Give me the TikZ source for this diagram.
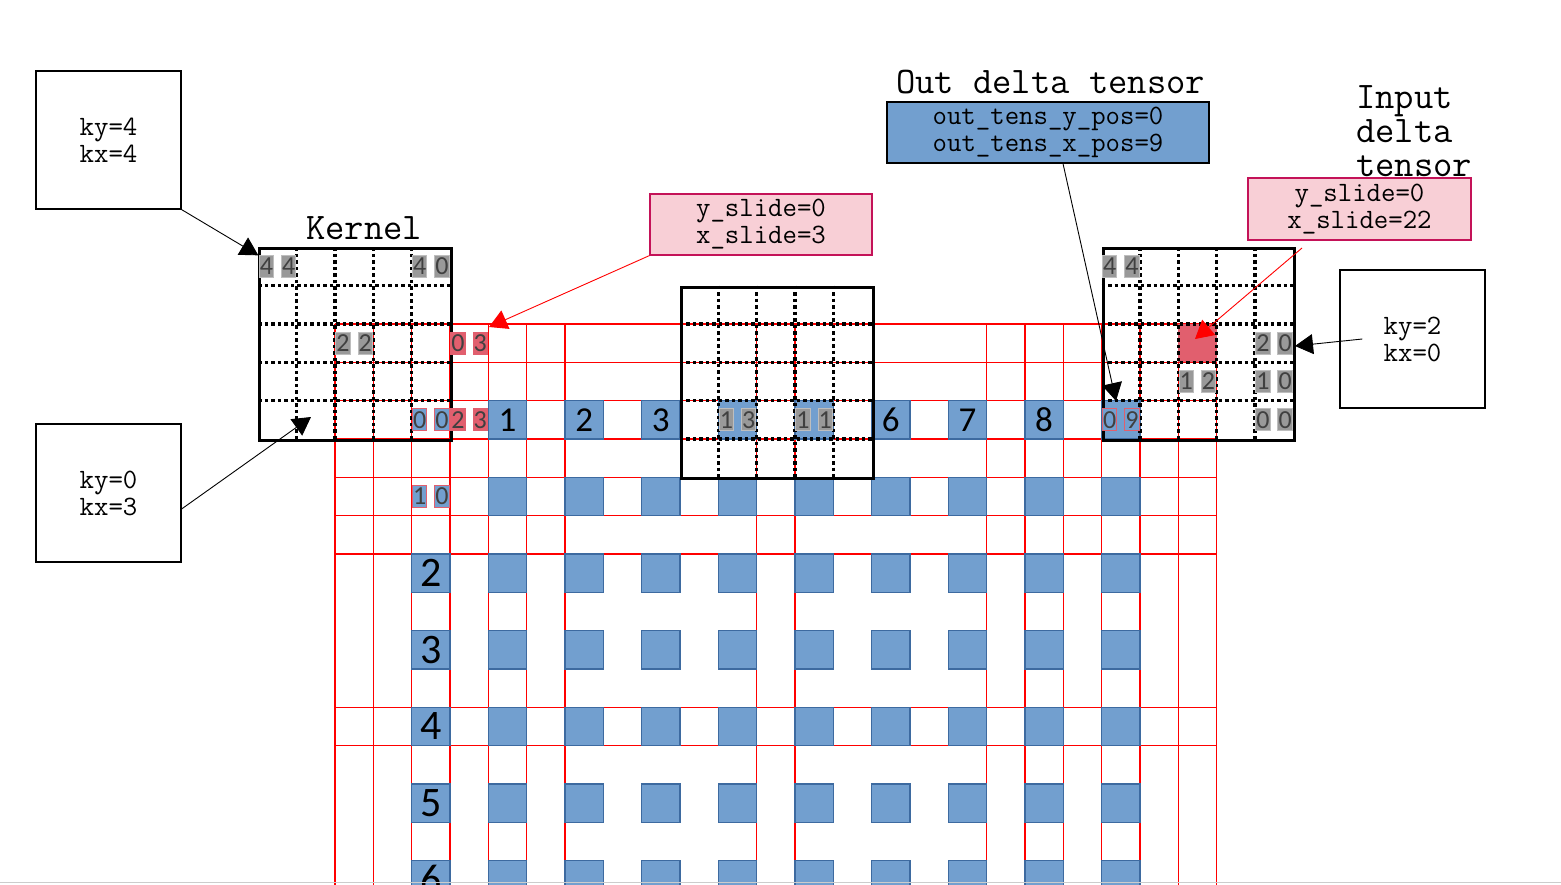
\documentclass[tikz,border=0pt]{standalone}
\usepackage{fontspec}
\newfontfamily\numfont{Carlito}
\usetikzlibrary{arrows.meta}
\usetikzlibrary{scopes}

\definecolor{cellblue}{RGB}{114,159,207}
\definecolor{celledge}{RGB}{61,106,160}
\definecolor{lblgrey}{RGB}{153,153,153}
\definecolor{lblgreyedge}{RGB}{190,190,190}
\definecolor{lblred}{RGB}{225,95,110}
\definecolor{notepink}{RGB}{248,207,214}
\definecolor{noteedge}{RGB}{196,18,88}

\tikzset{
	note/.style={draw, line width=1.2pt, inner sep=0pt, align=center, font=\ttfamily\fontsize{28}{27}\selectfont},
	pinknote/.style={note, draw=noteedge, fill=notepink},
	title/.style={inner sep=0pt, font=\ttfamily\fontsize{37.5}{34}\selectfont},
	cellbox/.style={fill=cellblue, draw=celledge, line width=1.2pt, minimum size=38.33pt, inner sep=0pt},
	rownum/.style={font=\numfont\fontsize{35}{35}\selectfont},
	colnum/.style={font=\numfont\fontsize{42}{42}\selectfont},
	lblbox/.style={minimum width=14.5pt, minimum height=22pt, inner sep=0pt, line width=1pt, text=black!75, font=\numfont\fontsize{26}{26}\selectfont},
	greylbl/.style={lblbox, fill=lblgrey, draw=lblgreyedge},
	bluelbl/.style={lblbox, fill=cellblue, draw=lblred},
	redlbl/.style={lblbox, fill=lblred, draw=lblred},
	kernframe/.style={draw, line width=3pt, minimum size=191.65pt, inner sep=0pt, anchor=north west},
	dotline/.style={line width=3.5pt, dash pattern=on 3.5pt off 3pt},
	pointer/.style={line width=0.9pt, -{Triangle[length=18pt,width=20pt]}},
	redpointer/.style={pointer, red}
}

\newcommand{\kerneldots}[2]{%
	\foreach \n in {1,...,4} {
		\draw[dotline] (#1+\n,#2) -- (#1+\n,#2+5);
		\draw[dotline] (#1,#2+\n) -- (#1+5,#2+\n);
	}}
\newcommand{\pairlbl}[5]{%
	\node[#1] (lbl#2#3a) at (#2+0.21,#3+0.5) {#4};
	\node[#1] (lbl#2#3b) at (#2+0.79,#3+0.5) {#5};}

\begin{document}
\begin{tikzpicture}[x=1pt,y=-1pt]
	\path[use as bounding box] (0,0) rectangle (1561,885);
	\clip (0,0) rectangle (1561,885);
	\fill[white] (0,0) rectangle (1561,885);
	\begin{scope}[shift={(335,324)},x=38.33pt,y=-38.33pt]
		\begin{scope}[red, line width=1.2pt]
			\foreach \i in {0,1,2,3,4,5,6,11,12,17,18,19,20,21,22,23}
				\draw (\i,0) -- (\i,15);
			\foreach \j in {0,1,2,3,4,5,6,10,11}
				\draw (0,\j) -- (23,\j);
		\end{scope}
		\foreach \c in {1,...,9}
			\foreach \r in {0,...,6}
				\node[cellbox] (cell-\c-\r) at (2*\c+2.5,2*\r+2.5) {};
		\foreach \c in {1,2,3,6,7,8}
			\node[rownum] (num-\c) at (cell-\c-0) {\c};
		\foreach \r in {2,...,6}
			\node[cellbox, colnum] (cell-0-\r) at (2.5,2*\r+2.5) {\r};
		\fill[lblred] (22,0) rectangle (23,1);
		\kerneldots{-2}{-2}
		\node[kernframe] (kernL) at (-2,-2) {};
		\kerneldots{9}{-1}
		\node[kernframe] (kernM) at (9,-1) {};
		\kerneldots{20}{-2}
		\node[kernframe] (kernR) at (20,-2) {};
		\pairlbl{greylbl}{-2}{-2}{4}{4}
		\pairlbl{greylbl}{2}{-2}{4}{0}
		\pairlbl{greylbl}{0}{0}{2}{2}
		\pairlbl{redlbl}{3}{0}{0}{3}
		\pairlbl{bluelbl}{2}{2}{0}{0}
		\pairlbl{redlbl}{3}{2}{2}{3}
		\pairlbl{bluelbl}{2}{4}{1}{0}
		\pairlbl{greylbl}{10}{2}{1}{3}
		\pairlbl{greylbl}{12}{2}{1}{1}
		\pairlbl{bluelbl}{20}{2}{0}{9}
		\pairlbl{greylbl}{20}{-2}{4}{4}
		\pairlbl{greylbl}{24}{0}{2}{0}
		\pairlbl{greylbl}{22}{1}{1}{2}
		\pairlbl{greylbl}{24}{1}{1}{0}
		\pairlbl{greylbl}{24}{2}{0}{0}
	\end{scope}

	\node[title] (kerneltitle) at (364,228) {Kernel};
	\node[title] (outtitle) at (1050.5,82) {Out delta tensor};
	\node[title, align=left, anchor=west] (intitle) at (1356,131) {Input\\delta\\tensor};

	\node[note, minimum width=145pt, minimum height=138pt] (kyA) at (108.5,140) {ky=4\\kx=4};
	\node[note, minimum width=145pt, minimum height=138pt] (kyB) at (108.5,493) {ky=0\\kx=3};
	\node[note, minimum width=145pt, minimum height=138pt] (kyC) at (1412.5,339) {ky=2\\kx=0};
	\node[pinknote, minimum width=222pt, minimum height=61pt] (slideA) at (761,224.5) {y\_slide=0\\x\_slide=3};
	\node[pinknote, minimum width=223pt, minimum height=62pt] (slideB) at (1359.5,209) {y\_slide=0\\x\_slide=22};
	\node[note, fill=cellblue, minimum width=322pt, minimum height=61pt] (outpos) at (1048,132.5) {out\_tens\_y\_pos=0\\out\_tens\_x\_pos=9};

	\coordinate (kyBend) at (311,417);
	\coordinate (slideAend) at (489,327);
	\coordinate (outposend) at (1116,401);
	\coordinate (slideBfoot) at (1302,248);
	\coordinate (slideBend) at (1195,339);
	\coordinate (kyCend) at (1295,346);

	\draw[pointer] (kyA.south east) -- ([yshift=-8pt]kernL.north west);
	\draw[pointer] ([yshift=-16pt]kyB.east) -- (kyBend);
	\draw[redpointer] (slideA.south west) -- (slideAend);
	\draw[pointer] ([xshift=15pt]outpos.south) -- (outposend);
	\draw[redpointer] (slideBfoot) -- (slideBend);
	\draw[pointer] ([xshift=23pt]kyC.west) -- (kyCend);

	\draw[black!20, line width=1pt] (0,882.5) -- (1561,882.5);
\end{tikzpicture}
\end{document}
